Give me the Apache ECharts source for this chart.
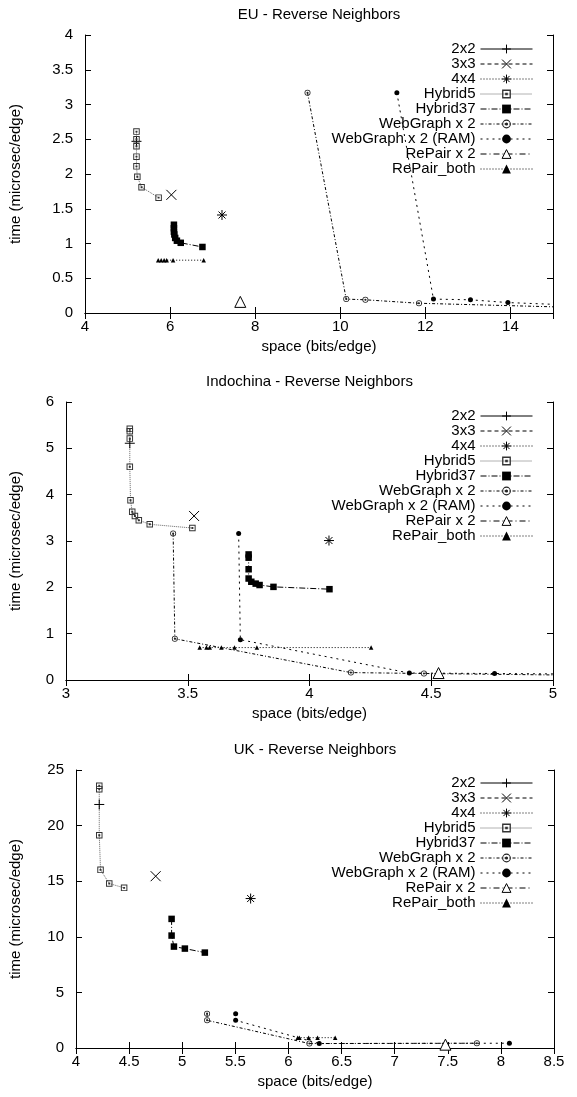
<!DOCTYPE html>
<html><head><meta charset="utf-8">
<script src="https://cdn.jsdelivr.net/npm/echarts/dist/echarts.min.js"></script>
<style>html,body{margin:0;padding:0;background:#fff}#c{width:577px;height:1097px}</style>
</head><body><div id="c"></div>
<script>
// ---------- text ----------
const seriesNames = ['2x2','3x3','4x4','Hybrid5','Hybrid37','WebGraph x 2','WebGraph x 2 (RAM)','RePair x 2','RePair_both'];
const panelTitles = ['EU - Reverse Neighbors','Indochina - Reverse Neighbors','UK - Reverse Neighbors'];
const xAxisTitle = 'space (bits/edge)';
const yAxisTitle = 'time (microsec/edge)';

// ---------- axis scales [min, max, interval] ----------
const euXScale = [4, 15, 2];
const euYScale = [0, 4, 0.5];
const icXScale = [3, 5, 0.5];
const icYScale = [0, 6, 1];
const ukXScale = [4, 8.5, 0.5];
const ukYScale = [0, 25, 5];

// ---------- EU data [space, time] ----------
const eu2x2 = [[5.21, 2.47]];
const eu3x3 = [[6.03, 1.70]];
const eu4x4 = [[7.22, 1.41]];
const euHybrid5 = [[5.21,2.61],[5.21,2.50],[5.21,2.40],[5.21,2.25],[5.21,2.11],[5.23,1.96],[5.33,1.81],[5.73,1.66]];
const euHybrid37 = [[6.09,1.27],[6.09,1.22],[6.09,1.17],[6.10,1.13],[6.12,1.08],[6.16,1.04],[6.25,1.01],[6.76,0.95]];
const euWebGraph = [[9.23,3.17],[10.14,0.20],[10.59,0.19],[11.85,0.14],[16.8,0.06]];
const euWebGraphRAM = [[11.33,3.17],[12.19,0.20],[13.06,0.19],[13.94,0.15],[16.5,0.09]];
const euRePair = [[7.65,0.16]];
const euRePairBoth = [[5.72,0.76],[5.79,0.76],[5.86,0.76],[5.92,0.76],[6.07,0.76],[6.79,0.76]];

// ---------- Indochina data ----------
const ic2x2 = [[3.262, 5.11]];
const ic3x3 = [[3.526, 3.54]];
const ic4x4 = [[4.08, 3.01]];
const icHybrid5 = [[3.262,5.42],[3.262,5.37],[3.262,5.21],[3.262,4.60],[3.265,3.88],[3.272,3.63],[3.283,3.54],[3.299,3.45],[3.344,3.36],[3.519,3.28]];
const icHybrid37 = [[3.750,2.71],[3.750,2.64],[3.750,2.39],[3.750,2.19],[3.761,2.12],[3.779,2.08],[3.795,2.05],[3.852,2.01],[4.082,1.96]];
const icWebGraph = [[3.440,3.16],[3.447,0.89],[4.17,0.16],[4.47,0.14],[5.5,0.08]];
const icWebGraphRAM = [[3.709,3.16],[3.716,0.87],[4.41,0.15],[4.76,0.14],[5.6,0.11]];
const icRePair = [[4.53,0.15]];
const icRePairBoth = [[3.549,0.70],[3.577,0.70],[3.590,0.70],[3.638,0.70],[3.692,0.70],[3.784,0.70],[4.253,0.70]];

// ---------- UK data ----------
const uk2x2 = [[4.219, 21.9]];
const uk3x3 = [[4.75, 15.45]];
const uk4x4 = [[5.644, 13.44]];
const ukHybrid5 = [[4.219,23.58],[4.219,23.28],[4.219,19.14],[4.231,16.02],[4.313,14.79],[4.453,14.40]];
const ukHybrid37 = [[4.90,11.61],[4.90,10.11],[4.922,9.12],[5.025,8.94],[5.213,8.58]];
const ukWebGraph = [[5.234,3.09],[5.234,2.49],[6.197,0.40],[7.774,0.43]];
const ukWebGraphRAM = [[5.503,3.09],[5.503,2.49],[6.29,0.40],[8.08,0.43]];
const ukRePair = [[7.478,0.30]];
const ukRePairBoth = [[6.087,0.93],[6.103,0.93],[6.19,0.93],[6.274,0.93],[6.44,0.93]];

// ---------- build ----------
const FONT = '"Liberation Sans", Arial, Helvetica, sans-serif';
const PLUS = 'path://M10,0L10,20M0,10L20,10';
const CROSS = 'path://M0,0L20,20M20,0L0,20';
const STAR = 'path://M10,0L10,20M0,10L20,10M3,3L17,17M17,3L3,17';
const BOXDOT = 'path://M0,0L20,0L20,20L0,20ZM3,3L3,17L17,17L17,3ZM7,7L13,7L13,13L7,13Z';
const CIRCDOT = 'path://M10,0A10,10 0 1,1 10,20A10,10 0 1,1 10,0ZM10,2.5A7.5,7.5 0 1,0 10,17.5A7.5,7.5 0 1,0 10,2.5ZM10,6.5A3.5,3.5 0 1,1 10,13.5A3.5,3.5 0 1,1 10,6.5Z';

const styles = {
  '2x2': {symbol: PLUS, size: 10, item: {color:'#000', borderColor:'#000', borderWidth:1}, dash:'solid'},
  '3x3': {symbol: CROSS, size: 10, item: {color:'#000', borderColor:'#000', borderWidth:1}, dash:[4,3]},
  '4x4': {symbol: STAR, size: 10, item: {color:'#000', borderColor:'#000', borderWidth:1}, dash:[1,2]},
  'Hybrid5': {symbol: BOXDOT, size: 6.5, item: {color:'#333'}, dash:[1,1], lineColor:'#666'},
  'Hybrid37': {symbol: 'rect', size: 6.5, item: {color:'#000'}, dash:[6,2,1,2]},
  'WebGraph x 2': {symbol: CIRCDOT, size: 6, item: {color:'#222'}, dash:[3,2,1,2]},
  'WebGraph x 2 (RAM)': {symbol: 'circle', size: 5, item: {color:'#000'}, dash:[2,4]},
  'RePair x 2': {symbol: 'triangle', size: 11, item: {color:'#fff', borderColor:'#000', borderWidth:1}, dash:[6,3,1,3]},
  'RePair_both': {symbol: 'triangle', size: 4.5, item: {color:'#000'}, dash:[1,2]}
};

const panelData = [
  [eu2x2, eu3x3, eu4x4, euHybrid5, euHybrid37, euWebGraph, euWebGraphRAM, euRePair, euRePairBoth],
  [ic2x2, ic3x3, ic4x4, icHybrid5, icHybrid37, icWebGraph, icWebGraphRAM, icRePair, icRePairBoth],
  [uk2x2, uk3x3, uk4x4, ukHybrid5, ukHybrid37, ukWebGraph, ukWebGraphRAM, ukRePair, ukRePairBoth]
];
const panelScales = [[euXScale, euYScale],[icXScale, icYScale],[ukXScale, ukYScale]];

const gridBoxes = [
  {left:85, top:35, width:468, height:278},
  {left:66, top:402, width:487, height:278},
  {left:76, top:770, width:478, height:278}
];
const titlePos = [[319, 14.7],[309.5, 382],[315, 750]];
const yNameGap = [62, 43, 53];
const legendTops = [41.5, 408.5, 775.5];

const grid = [], xAxis = [], yAxis = [], series = [], title = [], legend = [];
const axisLine = {show:true, lineStyle:{color:'#000', width:1}};
const axisTick = {show:true, inside:true, length:6, lineStyle:{color:'#000', width:1}};

panelData.forEach((arrs, gi) => {
  const g = gridBoxes[gi];
  grid.push(Object.assign({containLabel:false, show:false}, g));
  const [xs, ys] = panelScales[gi];
  const lbl = {fontFamily:FONT, fontSize:15, color:'#000'};
  xAxis.push({type:'value', gridIndex:gi, position:'bottom', min:xs[0], max:xs[1], interval:xs[2],
    axisLine, axisTick, splitLine:{show:false},
    axisLabel:Object.assign({margin:6, showMaxLabel: gi===0 ? false : true, showMinLabel:true}, lbl),
    name:xAxisTitle, nameLocation:'middle', nameGap:26, nameTextStyle:lbl});
  xAxis.push({type:'value', gridIndex:gi, position:'top', min:xs[0], max:xs[1], interval:xs[2],
    axisLine, axisTick, splitLine:{show:false}, axisLabel:{show:false}});
  yAxis.push({type:'value', gridIndex:gi, position:'left', min:ys[0], max:ys[1], interval:ys[2],
    axisLine, axisTick, splitLine:{show:false},
    axisLabel:Object.assign({margin:12, showMaxLabel:true, showMinLabel:true}, lbl),
    name:yAxisTitle, nameLocation:'middle', nameGap:yNameGap[gi], nameTextStyle:lbl});
  yAxis.push({type:'value', gridIndex:gi, position:'right', min:ys[0], max:ys[1], interval:ys[2],
    axisLine, axisTick, splitLine:{show:false}, axisLabel:{show:false}});

  title.push({text:panelTitles[gi], left:titlePos[gi][0], top:titlePos[gi][1], textAlign:'center', textVerticalAlign:'middle', padding:0,
    textStyle:{fontFamily:FONT, fontSize:15, fontWeight:'normal', color:'#000'}});

  legend.push({data:seriesNames, orient:'vertical', align:'right', right:44, top:legendTops[gi],
    itemWidth:52, itemHeight:11, itemGap:0, padding:0, selectedMode:false,
    lineStyle:{width:1}, itemStyle:{borderWidth:'inherit'},
    formatter: n => '{n|' + n + '}',
    textStyle:{fontFamily:FONT, fontSize:15, color:'#000',
      rich:{n:{fontFamily:FONT, fontSize:15, color:'#000', width:155, align:'right', height:14, lineHeight:14}}}});

  arrs.forEach((data, si) => {
    const name = seriesNames[si];
    const s = styles[name];
    series.push({type:'line', name, data, xAxisIndex:gi*2, yAxisIndex:gi*2,
      symbol:s.symbol, symbolSize:s.size, showSymbol:true, showAllSymbol:true, clip:true,
      lineStyle:{color:s.lineColor || '#000', width:1, type:s.dash},
      itemStyle:s.item, emphasis:{disabled:true}, silent:true, animation:false});
  });
});

const chart = echarts.init(document.getElementById('c'), null, {renderer:'canvas'});
chart.setOption({backgroundColor:'#fff', animation:false, title, legend, grid, xAxis, yAxis, series});
</script></body></html>
